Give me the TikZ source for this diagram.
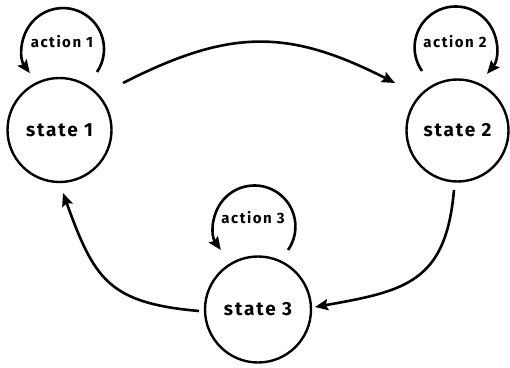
\documentclass[tikz,border=0pt]{standalone}
\usepackage{fontspec}
\setmainfont{Fira Sans}[LetterSpace=10]
\usetikzlibrary{arrows.meta,calc,positioning}
\tikzset{%
	state/.style = {draw, circle, line width=2.4pt, minimum size=104pt, inner sep=0pt, font=\fontsize{19}{19}\selectfont\bfseries},
	link/.style  = {line width=2.6pt, -{Stealth[length=13pt,width=11pt,inset=2pt]}},
	act/.style   = {font=\fontsize{15}{15}\selectfont\bfseries, inner sep=0pt},
}

\begin{document}
\begin{tikzpicture}[x=1pt,y=1pt]
	\useasboundingbox (0,0) rectangle (510,367);

	\node[state] (s1) at (59.5,237) {state 1};
	\node[state, minimum size=102pt] (s2) at (457.5,236.5) {state 2};
	\node[state, minimum size=106pt] (s3) at (258,57.5) {state 3};

	% self loops
	\draw[link] ([shift={(37.5,58)}]s1.center) arc[start angle=-34,end angle=216,radius=41];
	\draw[link] ([shift={(-35.5,59.5)}]s2.center) arc[start angle=215,end angle=-40,radius=41];
	\draw[link] ([shift={(30,59.5)}]s3.center) arc[start angle=-35,end angle=215,radius=41];
	\node[act] (a1) at ([shift={(2.5,88)}]s1.center) {action 1};
	\node[act] (a2) at ([shift={(-2.5,88.5)}]s2.center) {action 2};
	\node[act] (a3) at ([shift={(-5,91.5)}]s3.center) {action 3};

	% transitions
	\draw[link] ([shift={(63.5,47)}]s1.center) to[out=27,in=153,looseness=1.13] ([shift={(-62.5,47.5)}]s2.center);
	\draw[link] ([shift={(-3.5,-59.5)}]s2.center) to[out=-95,in=10,looseness=1.3] ([shift={(57,2.5)}]s3.center);
	\draw[link] ([shift={(-59,-1.5)}]s3.center) to[out=175,in=-70,looseness=1.3] ([shift={(3.5,-63)}]s1.center);
\end{tikzpicture}
\end{document}
